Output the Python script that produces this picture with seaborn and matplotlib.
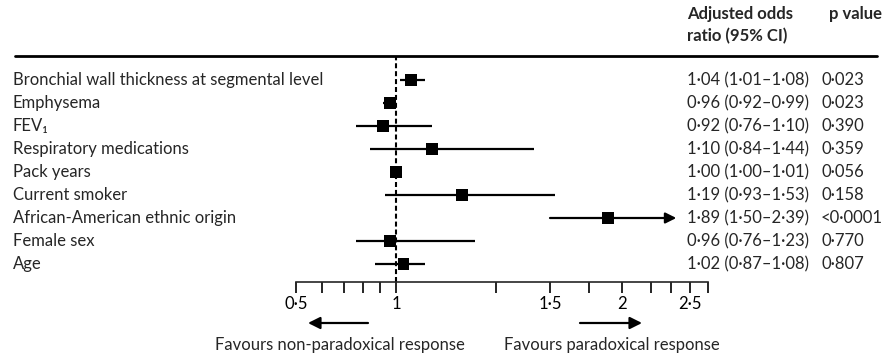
import numpy as np
import matplotlib
matplotlib.use('Agg')
import matplotlib.pyplot as plt
import seaborn as sns
from matplotlib.lines import Line2D
from matplotlib.transforms import blended_transform_factory

# ==========================================
# 1. Data
# ==========================================
variables = [
    'Bronchial wall thickness at segmental level',
    'Emphysema',
    'FEV\u2081',
    'Respiratory medications',
    'Pack years',
    'Current smoker',
    'African-American ethnic origin',
    'Female sex',
    'Age',
]
odds_ratio = [1.04, 0.96, 0.92, 1.10, 1.00, 1.19, 1.89, 0.96, 1.02]
ci_low = [1.01, 0.92, 0.76, 0.84, 1.00, 0.93, 1.50, 0.76, 0.87]
ci_high = [1.08, 0.99, 1.10, 1.44, 1.01, 1.53, 2.39, 1.23, 1.08]
p_values = ['0·023', '0·023', '0·390', '0·359', '0·056', '0·158', '<0·0001', '0·770', '0·807']
ci_arrow = [False, False, False, False, False, False, True, False, False]

tick_values = [0.5, 1, 1.5, 2, 2.5]
tick_labels = ['0·5', '1', '1·5', '2', '2·5']
minor_values = [0.6, 0.7, 0.8, 0.9, 1.3, 1.75, 2.2, 2.35, 2.65]

# ==========================================
# 2. Style
# ==========================================
sns.set_style('white')
plt.rcParams['font.family'] = ['Lato', 'DejaVu Sans']
FS = 12

W, H = 884, 358
fig = plt.figure(figsize=(W / 100, H / 100), dpi=100)

# plot band runs from the header rule (y=56 px) down to the axis line (y=282 px)
TOP, BOTTOM = 56, 282
ROW0, PITCH = 80, 23
ax = fig.add_axes([0, (H - BOTTOM) / H, 1, (BOTTOM - TOP) / H])

# the printed axis is piecewise log between the labelled ticks (pixel anchors)
axis_vals = np.log([0.05, 0.5, 0.6, 0.7, 0.8, 0.9, 1.0, 1.5, 2.0, 2.5, 20])
axis_px = np.array([-33, 296, 322, 344, 363, 380, 396, 550, 622, 690, 1324])


def fwd(x):
    x = np.clip(np.asarray(x, dtype=float), 1e-3, None)
    return np.interp(np.log(x), axis_vals, axis_px)


def inv(p):
    return np.exp(np.interp(np.asarray(p, dtype=float), axis_px, axis_vals))


ax.set_xscale('function', functions=(fwd, inv))
ax.set_xlim(float(inv(0)), float(inv(W)))
ax.set_ylim((BOTTOM - ROW0) / PITCH, (TOP - ROW0) / PITCH)

rows = np.arange(len(variables))

# ==========================================
# 3. Forest plot marks
# ==========================================
ax.axvline(1, color='black', lw=1.5, ls=(0, (2.4, 1.4)), zorder=1)

for i in rows:
    if ci_arrow[i]:
        ax.annotate('', xy=(ci_high[i], i), xytext=(ci_low[i], i),
                    arrowprops=dict(arrowstyle='-|>', lw=1.6, color='black',
                                    mutation_scale=16, shrinkA=0, shrinkB=0))
    else:
        ax.hlines(i, ci_low[i], ci_high[i], color='black', lw=1.6, zorder=2)

sns.scatterplot(x=odds_ratio, y=rows, marker='s', s=72, color='black',
                edgecolor='none', zorder=4, legend=False, ax=ax)

# ==========================================
# 4. Axis
# ==========================================
for side in ['top', 'left', 'right']:
    ax.spines[side].set_visible(False)
ax.spines['bottom'].set_bounds(0.5, 2.65)
ax.spines['bottom'].set_linewidth(1.2)
ax.set_xticks(tick_values)
ax.set_xticklabels(tick_labels)
ax.set_xticks(minor_values, minor=True)
ax.set_xticklabels([''] * len(minor_values), minor=True)
ax.tick_params(axis='x', which='both', bottom=True, direction='out', length=8,
               width=1.2, colors='black', pad=2, labelsize=FS)
ax.set_yticks([])
ax.set_xlabel('')
ax.set_ylabel('')

# ==========================================
# 5. Text columns
# ==========================================
row_tf = blended_transform_factory(fig.transFigure, ax.transData)
for i in rows:
    ci_str = f'{odds_ratio[i]:.2f} ({ci_low[i]:.2f}–{ci_high[i]:.2f})'.replace('.', '·')
    ax.text(13 / W, i, variables[i], transform=row_tf, ha='left', va='center', fontsize=FS)
    ax.text(687 / W, i, ci_str, transform=row_tf, ha='left', va='center', fontsize=FS)
    ax.text(821 / W, i, p_values[i], transform=row_tf, ha='left', va='center', fontsize=FS)

fig.text(687 / W, 1 - 14 / H, 'Adjusted odds', ha='left', va='center', fontsize=FS, fontweight='bold')
fig.text(687 / W, 1 - 36 / H, 'ratio (95% CI)', ha='left', va='center', fontsize=FS, fontweight='bold')
fig.text(829 / W, 1 - 14 / H, 'p value', ha='left', va='center', fontsize=FS, fontweight='bold')
fig.add_artist(Line2D([15 / W, 877 / W], [1 - TOP / H] * 2, transform=fig.transFigure,
                      color='black', lw=2))

# direction arrows under the axis
arrow_kw = dict(arrowstyle='-|>', lw=1.6, color='black', mutation_scale=18, shrinkA=0, shrinkB=0)
ax.annotate('', xy=(308, H - 323), xytext=(368, H - 323), xycoords='figure pixels', arrowprops=arrow_kw)
ax.annotate('', xy=(642, H - 323), xytext=(580, H - 323), xycoords='figure pixels', arrowprops=arrow_kw)
fig.text(340 / W, 1 - 345 / H, 'Favours non-paradoxical response', ha='center', va='center', fontsize=FS)
fig.text(612 / W, 1 - 345 / H, 'Favours paradoxical response', ha='center', va='center', fontsize=FS)

plt.savefig('out.png', dpi=100)
